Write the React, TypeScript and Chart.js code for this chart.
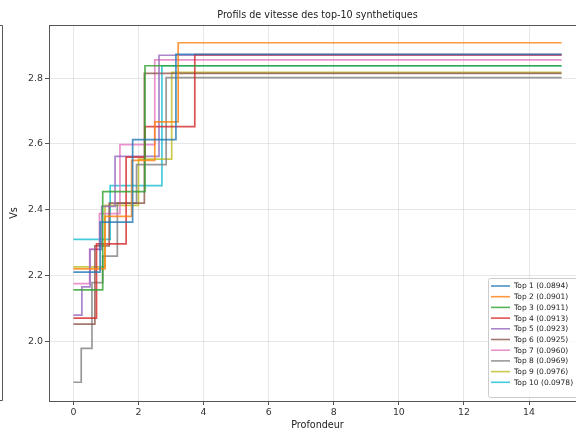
import React, { useEffect, useRef } from "react";
import { Chart, registerables } from "chart.js";

Chart.register(...registerables);

// Legend labels (rank and misfit) and tab10 colours
const seriesLabels = [
  "Top 1 (0.0894)",
  "Top 2 (0.0901)",
  "Top 3 (0.0911)",
  "Top 4 (0.0913)",
  "Top 5 (0.0923)",
  "Top 6 (0.0925)",
  "Top 7 (0.0960)",
  "Top 8 (0.0969)",
  "Top 9 (0.0976)",
  "Top 10 (0.0978)",
];
const seriesColors = [
  "#1f77b4", "#ff7f0e", "#2ca02c", "#d62728", "#9467bd",
  "#8c564b", "#e377c2", "#7f7f7f", "#bcbd22", "#17becf",
];

// Layer tops (depth) and shear velocity of each layer
const depths1 = [0, 0.82, 1.82, 3.15];
const vs1 = [2.21, 2.362, 2.613, 2.873];
const depths2 = [0, 0.97, 1.79, 2.5, 3.22];
const vs2 = [2.22, 2.38, 2.55, 2.667, 2.908];
const depths3 = [0, 0.9, 2.2];
const vs3 = [2.156, 2.455, 2.838];
const depths4 = [0, 0.71, 1.62, 2.2, 3.73];
const vs4 = [2.07, 2.296, 2.56, 2.653, 2.872];
const depths5 = [0, 0.26, 0.51, 0.87, 1.28, 2.63];
const vs5 = [2.079, 2.165, 2.279, 2.41, 2.562, 2.87];
const depths6 = [0, 0.66, 1.1, 2.18];
const vs6 = [2.052, 2.29, 2.42, 2.815];
const depths7 = [0, 0.5, 0.8, 1.43, 2.5];
const vs7 = [2.175, 2.28, 2.388, 2.598, 2.856];
const depths8 = [0, 0.24, 0.57, 0.9, 1.35, 1.94, 2.85];
const vs8 = [1.875, 1.978, 2.178, 2.259, 2.42, 2.537, 2.802];
const depths9 = [0, 0.97, 2.0, 3.02];
const vs9 = [2.226, 2.413, 2.554, 2.818];
const depths10 = [0, 1.13, 2.72];
const vs10 = [2.31, 2.473, 2.838];

const maxDepth = 15;
const xTickValues = [0, 2, 4, 6, 8, 10, 12, 14];
const yTickValues = [2.0, 2.2, 2.4, 2.6, 2.8];

const profileDepths = [depths1, depths2, depths3, depths4, depths5, depths6, depths7, depths8, depths9, depths10];
const profileVs = [vs1, vs2, vs3, vs4, vs5, vs6, vs7, vs8, vs9, vs10];

const FONT = "'DejaVu Sans', sans-serif";
const CANVAS_W = 600;
const CANVAS_H = 432;
const SPINE = "#555555";

function withAlpha(hex: string, a: number) {
  const r = parseInt(hex.slice(1, 3), 16);
  const g = parseInt(hex.slice(3, 5), 16);
  const b = parseInt(hex.slice(5, 7), 16);
  return `rgba(${r},${g},${b},${a})`;
}

const decorations = {
  id: "decorations",
  afterDraw(chart: any) {
    const { ctx, chartArea } = chart;
    const { left, right, top, bottom } = chartArea;
    ctx.save();

    // top and right spines
    ctx.strokeStyle = SPINE;
    ctx.lineWidth = 1;
    ctx.beginPath();
    ctx.moveTo(left, top + 0.5);
    ctx.lineTo(right, top + 0.5);
    ctx.moveTo(right - 0.5, top);
    ctx.lineTo(right - 0.5, bottom);
    ctx.stroke();

    // edge of the neighbouring panel on the left
    ctx.beginPath();
    ctx.moveTo(0, top + 0.5);
    ctx.lineTo(2.5, top + 0.5);
    ctx.lineTo(2.5, bottom - 0.5);
    ctx.lineTo(0, bottom - 0.5);
    ctx.stroke();

    // title
    ctx.fillStyle = "#222";
    ctx.font = `9.6px ${FONT}`;
    ctx.textAlign = "center";
    ctx.textBaseline = "middle";
    ctx.fillText("Profils de vitesse des top-10 synthetiques", (left + right) / 2, 15);

    // legend, lower right inside the axes
    const rowH = 10.7;
    const n = chart.data.datasets.length;
    const boxRight = right - 4;
    const boxBottom = bottom - 4;
    const boxH = n * rowH + 12;
    const boxW = 94;
    const boxLeft = boxRight - boxW;
    const boxTop = boxBottom - boxH;
    ctx.fillStyle = "rgba(255,255,255,0.8)";
    ctx.strokeStyle = "#cccccc";
    ctx.beginPath();
    (ctx as any).roundRect(boxLeft + 0.5, boxTop + 0.5, boxW, boxH, 2);
    ctx.fill();
    ctx.stroke();
    ctx.font = `7.5px ${FONT}`;
    ctx.textAlign = "left";
    ctx.textBaseline = "middle";
    chart.data.datasets.forEach((ds: any, i: number) => {
      const y = boxTop + 8 + rowH * i;
      ctx.strokeStyle = ds.borderColor;
      ctx.lineWidth = 1.6;
      ctx.beginPath();
      ctx.moveTo(boxLeft + 3, y);
      ctx.lineTo(boxLeft + 22, y);
      ctx.stroke();
      ctx.fillStyle = "#222";
      ctx.fillText(ds.label, boxLeft + 26, y + 0.5);
    });
    ctx.restore();
  },
};

export default function App() {
  const ref = useRef<HTMLCanvasElement | null>(null);

  useEffect(() => {
    const canvas = ref.current;
    if (!canvas) return;
    const datasets = profileDepths.map((ds, i) => {
      const vs = profileVs[i];
      const pts = ds.map((d, j) => ({ x: d, y: vs[j] }));
      pts.push({ x: maxDepth, y: vs[vs.length - 1] });
      return {
        label: seriesLabels[i],
        data: pts,
        borderColor: withAlpha(seriesColors[i], 0.8),
        backgroundColor: withAlpha(seriesColors[i], 0.8),
        borderWidth: 1.7,
        pointRadius: 0,
        stepped: true as const,
        fill: false,
      };
    });

    const tickFont = { family: FONT, size: 9.4 };
    const chart = new Chart(canvas, {
      type: "line",
      data: { datasets },
      options: {
        animation: false,
        responsive: false,
        devicePixelRatio: 1,
        layout: { padding: { left: 0, right: CANVAS_W - 586, top: 25, bottom: 0 } },
        plugins: {
          legend: { display: false },
          title: { display: false },
          tooltip: { enabled: false },
        },
        scales: {
          x: {
            type: "linear",
            min: -0.75,
            max: 15.75,
            afterBuildTicks: (s: any) => {
              s.ticks = xTickValues.map((v) => ({ value: v }));
            },
            afterFit: (s: any) => {
              s.height = 31;
            },
            ticks: {
              font: tickFont,
              color: "#333",
              padding: 2,
              maxRotation: 0,
              autoSkip: false,
              callback: (v: any) => String(v),
            },
            grid: {
              color: "rgba(176,176,176,0.3)",
              tickColor: SPINE,
              tickLength: 4,
            },
            border: { display: true, color: SPINE, width: 1 },
            title: {
              display: true,
              text: "Profondeur",
              font: { family: FONT, size: 9.6 },
              color: "#222",
              padding: { top: 0, bottom: 1 },
            },
          },
          y: {
            type: "linear",
            min: 1.818,
            max: 2.962,
            afterBuildTicks: (s: any) => {
              s.ticks = yTickValues.map((v) => ({ value: v }));
            },
            afterFit: (s: any) => {
              s.width = 49;
            },
            ticks: {
              font: tickFont,
              color: "#333",
              padding: 2,
              autoSkip: false,
              callback: (v: any) => Number(v).toFixed(1),
            },
            grid: {
              color: "rgba(176,176,176,0.3)",
              tickColor: SPINE,
              tickLength: 4,
            },
            border: { display: true, color: SPINE, width: 1 },
            title: {
              display: true,
              text: "Vs",
              font: { family: FONT, size: 9.6 },
              color: "#222",
              padding: { top: 9, bottom: 0 },
            },
          },
        },
      },
      plugins: [decorations],
    });
    return () => chart.destroy();
  }, []);

  return (
    <div style={{ position: "fixed", left: 0, top: 0, width: 576, height: 432, overflow: "hidden", background: "#fff" }}>
      <canvas ref={ref} width={CANVAS_W} height={CANVAS_H} style={{ display: "block", width: CANVAS_W, height: CANVAS_H }} />
    </div>
  );
}
